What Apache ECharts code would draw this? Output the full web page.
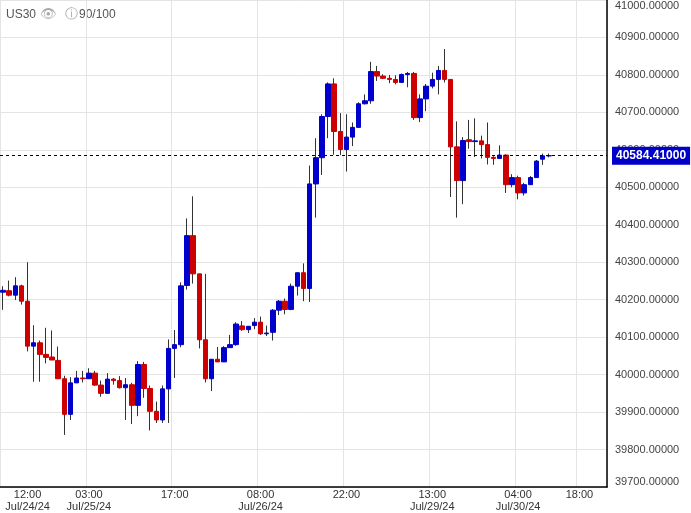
<!DOCTYPE html>
<html lang="en">
<head>
    <meta charset="UTF-8">
    <title>US30</title>
    <script src="https://cdn.jsdelivr.net/npm/echarts@6.0.0/dist/echarts.min.js"></script>
</head>
<body style="margin:0">
<div id="main" style="width: 691px;height:513px;"></div>
<script>
    // [open, close, low, high] per candle
    var candles = [
        [40220,40225,40173,40236],[40224,40212,40209,40251],[40212,40237,40199,40260],[40237,40196,40187,40240],
        [40196,40076,40062,40300],[40076,40085,39981,40132],[40085,40054,39981,40091],[40054,40046,40030,40125],
        [40047,40039,40039,40118],[40038,39989,39989,40075],[39989,39894,39839,39997],[39894,39978,39879,39993],
        [39978,39991,39978,40010],[39991,39989,39979,40010],[39989,40004,39989,40017],[40004,39972,39970,40010],
        [39972,39950,39941,39984],[39950,39988,39950,40004],[39988,39984,39973,39991],[39984,39965,39963,39996],
        [39965,39973,39879,39991],[39973,39918,39868,39978],[39918,40027,39889,40036],[40027,39963,39938,40034],
        [39963,39902,39851,39971],[39902,39879,39871,39928],[39879,39962,39871,39971],[39962,40070,39871,40094],
        [40070,40080,39991,40119],[40080,40237,40073,40246],[40238,40371,40227,40417],[40371,40269,40243,40476],
        [40269,40093,40070,40269],[40093,39989,39979,40269],[39989,40041,39956,40041],[40041,40034,40034,40074],
        [40034,40072,40034,40076],[40072,40080,40072,40106],[40080,40135,40077,40140],[40130,40120,40117,40143],
        [40120,40129,40111,40129],[40131,40140,40121,40151],[40140,40109,40106,40155],[40109,40111,40103,40131],
        [40113,40172,40091,40175],[40172,40196,40159,40199],[40196,40174,40161,40203],[40174,40236,40172,40243],
        [40236,40272,40211,40272],[40272,40230,40196,40297],[40230,40509,40194,40558],[40509,40579,40419,40631],
        [40579,40689,40533,40695],[40689,40776,40631,40780],[40776,40649,40587,40791],[40649,40601,40586,40698],
        [40601,40634,40542,40695],[40634,40660,40610,40673],[40660,40723,40660,40727],[40723,40731,40721,40748],
        [40731,40809,40723,40835],[40809,40797,40784,40824],[40797,40791,40789,40802],[40791,40788,40778,40800],
        [40788,40780,40775,40799],[40780,40801,40780,40804],[40801,40804,40767,40808],[40804,40686,40680,40808],
        [40686,40736,40674,40748],[40736,40770,40703,40776],[40770,40788,40764,40806],[40788,40812,40748,40824],
        [40812,40788,40780,40869],[40788,40608,40474,40788],[40608,40518,40419,40676],[40518,40625,40455,40634],
        [40627,40622,40603,40680],[40622,40624,40581,40684],[40624,40614,40577,40638],[40614,40580,40561,40673],
        [40580,40577,40560,40583],[40577,40586,40577,40612],[40586,40507,40485,40588],[40507,40526,40500,40535],
        [40526,40485,40468,40531],[40485,40507,40478,40512],[40507,40526,40507,40530],[40526,40570,40526,40573],
        [40575,40584,40560,40590],[40584,40584.41,40580,40590]
    ];
    var slots = 99;
    var labelAt = {4: '12:00\nJul/24/24', 14: '03:00\nJul/25/24', 28: '17:00', 42: '08:00\nJul/26/24',
        56: '22:00', 70: '13:00\nJul/29/24', 84: '04:00\nJul/30/24', 94: '18:00'};
    var gridAt = [0, 14, 28, 42, 56, 70, 84, 94];
    var lastPrice = 40584.41;

    var cats = [];
    for (var i = 0; i < slots; i++) cats.push(labelAt[i] || '');
    var wicks = candles.map(function (d) { return [d[0], d[1], d[2], d[3]]; });
    var bodies = candles.map(function (d) {
        return [d[0], d[1], Math.min(d[0], d[1]), Math.max(d[0], d[1])];
    });

    var chart = echarts.init(document.getElementById('main'));
    chart.setOption({
        animation: false,
        backgroundColor: '#fff',
        grid: {left: 0, right: 84, top: -5, bottom: 23},
        graphic: [
            {type: 'text', left: 6, top: 9, style: {text: 'US30', fill: '#555', font: '12px Arial'}},
            {type: 'text', left: 40, top: 8, style: {text: '👁  ⓘ', fill: '#aaa', font: '13px DejaVu Sans'}},
            {type: 'text', left: 79, top: 9, style: {text: '90/100', fill: '#555', font: '12px Arial'}}
        ],
        xAxis: {
            type: 'category',
            data: cats,
            boundaryGap: true,
            axisLine: {lineStyle: {color: '#000', width: 1.5}},
            axisTick: {show: false},
            axisLabel: {
                interval: function (i) { return !!labelAt[i]; },
                color: '#333', fontSize: 11, lineHeight: 12, margin: 2, fontFamily: 'Arial'
            },
            splitLine: {
                show: true,
                interval: function (i) { return gridAt.indexOf(i) >= 0; },
                lineStyle: {color: '#e4e4e4'}
            }
        },
        yAxis: {
            type: 'value',
            position: 'right',
            min: 39700, max: 41000, interval: 100,
            axisLine: {show: true, lineStyle: {color: '#000', width: 1.5}},
            axisTick: {show: false},
            splitLine: {lineStyle: {color: '#e4e4e4'}},
            axisLabel: {
                color: '#444', fontSize: 11, fontFamily: 'Arial', margin: 8,
                formatter: function (v) { return v.toFixed(5); },
                verticalAlignMaxLabel: 'top', verticalAlignMinLabel: 'bottom'
            }
        },
        series: [{
            type: 'candlestick',
            data: wicks,
            barWidth: 1,
            itemStyle: {color: '#333', color0: '#333', borderColor: '#333', borderColor0: '#333', borderWidth: 1},
            markLine: {
                symbol: 'none', silent: true,
                lineStyle: {color: '#000', type: [3, 3], width: 1},
                label: {
                    position: 'end', distance: 5, formatter: lastPrice.toFixed(5),
                    backgroundColor: '#0000c8', color: '#fff', fontWeight: 'bold', fontSize: 12,
                    padding: [3, 4], fontFamily: 'Arial'
                },
                data: [{yAxis: lastPrice}]
            }
        }, {
            type: 'candlestick',
            data: bodies,
            barWidth: 5,
            itemStyle: {color: '#0000cc', color0: '#cc0000', borderColor: '#0000cc', borderColor0: '#cc0000', borderWidth: 1}
        }]
    });
</script>
</body>
</html>
